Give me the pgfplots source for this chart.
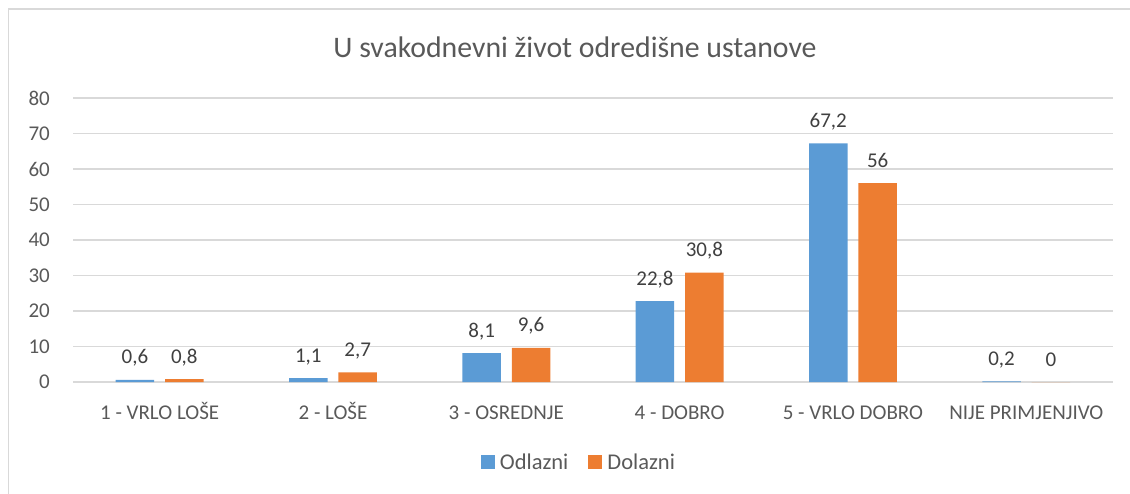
\documentclass[border=0pt]{standalone}
\usepackage{pgfplots}
\pgfplotsset{compat=1.18}
\usepackage{fontspec}
\setmainfont{Carlito}
\definecolor{cblue}{HTML}{5B9BD5}
\definecolor{corange}{HTML}{ED7D31}
\definecolor{cgrid}{HTML}{D9D9D9}
\definecolor{ctext}{HTML}{595959}
\definecolor{clabel}{HTML}{404040}
\pgfplotsset{/pgf/number format/assume math mode=true}
\begin{document}
\begin{tikzpicture}
\useasboundingbox (0pt,0pt) rectangle (1130pt,493pt);
\draw[cgrid, line width=1.3pt] (8.5pt,-2pt) -- (8.5pt,484pt) -- (1135pt,484pt);
\node[font=\fontsize{29.8}{35}\selectfont, text=ctext, anchor=base] at (575pt,435pt) {U svakodnevni život odredišne ustanove};
\begin{axis}[
  at={(73pt,111pt)}, anchor=south west,
  scale only axis, width=1040pt, height=284pt,
  ymin=0, ymax=80, xmin=-0.5, xmax=5.5,
  ytick={0,10,...,80},
  xtick=data,
  xticklabels={1 - VRLO LOŠE, 2 - LOŠE, 3 - OSREDNJE, 4 - DOBRO, 5 - VRLO DOBRO, NIJE PRIMJENJIVO},
  axis x line*=bottom, axis y line*=left,
  x axis line style={cgrid, line width=1.3pt, -},
  y axis line style={draw=none},
  ymajorgrids, grid style={cgrid, line width=1.3pt},
  major tick length=0pt,
  tick label style={font=\fontsize{21}{25}\selectfont, text=ctext},
  yticklabel style={anchor=east, inner sep=0pt, xshift=-23pt},
  xticklabel style={anchor=base, inner sep=0pt, yshift=-37pt},
  ybar, bar width=38.5pt,
  nodes near coords,
  every node near coord/.append style={font=\fontsize{21}{25}\selectfont, text=clabel, anchor=base, inner sep=0pt, yshift=16pt},
  /pgf/number format/.cd, use comma, 1000 sep={},
  /pgfplots/.cd,
  legend style={at={(0.4865,-0.2817)}, anchor=center, draw=none, fill=none,
    legend columns=2, font=\fontsize{22.5}{26}\selectfont, text=ctext,
    /tikz/every odd column/.append style={column sep=3pt},
    /tikz/every even column/.append style={column sep=18pt}},
  legend image code/.code={\fill[#1] (0pt,-7pt) rectangle (14pt,7pt);},
  legend cell align=left,
]
\addplot[fill=cblue, draw=none, bar shift=-24.7pt] coordinates {(0,0.6) (1,1.1) (2,8.1) (3,22.8) (4,67.2) (5,0.2)};
\addplot[fill=corange, draw=none, bar shift=24.7pt] coordinates {(0,0.8) (1,2.7) (2,9.6) (3,30.8) (4,56) (5,0)};
\legend{Odlazni, Dolazni}
\end{axis}
\end{tikzpicture}
\end{document}
